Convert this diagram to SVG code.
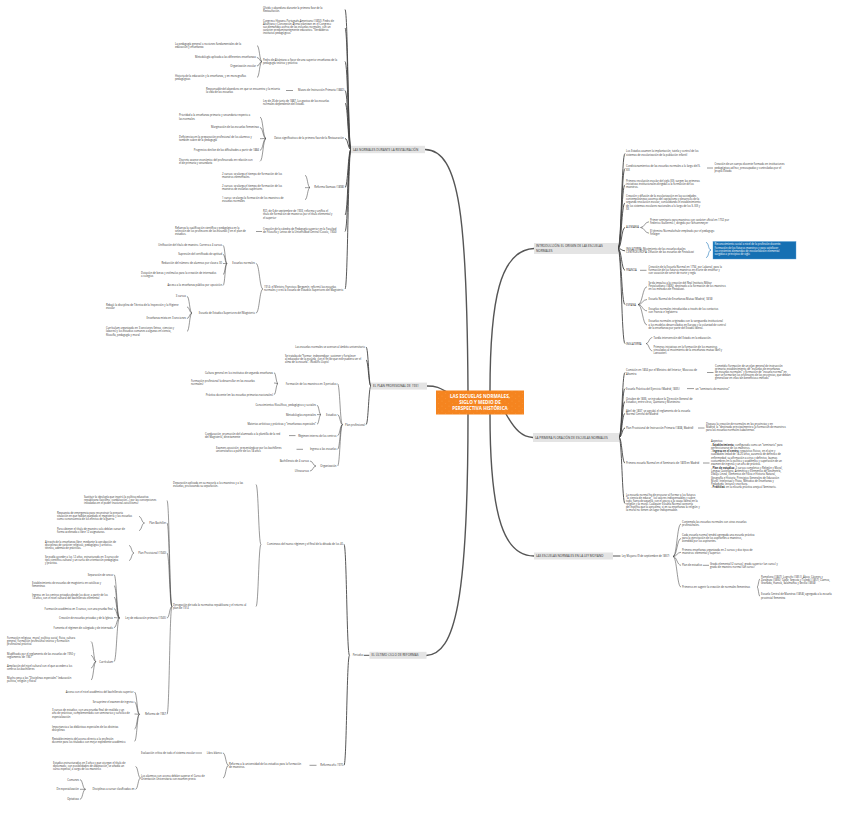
<svg xmlns="http://www.w3.org/2000/svg" width="848" height="818" viewBox="0 0 848 818">
<style>
.t{font-family:"Open Sans","Liberation Sans",sans-serif;font-size:2.65px;fill:#333}
.e{text-anchor:end}
.h{font-family:"Open Sans","Liberation Sans",sans-serif;font-size:3.1px;fill:#333}
.c{font-family:"Open Sans","Liberation Sans",sans-serif;font-weight:bold;font-size:4.6px;fill:#fff;text-anchor:middle}
.w{font-family:"Open Sans","Liberation Sans",sans-serif;font-size:2.65px;fill:#fff}
.box{fill:#e4e4e4}
.b1{fill:none;stroke:#444;stroke-width:0.9}
.b2{fill:none;stroke:#444;stroke-width:0.55}
.m{fill:none;stroke:#555;stroke-width:1.4;stroke-linecap:round}
</style>
<defs>
<pattern id="dots" width="7" height="5" patternUnits="userSpaceOnUse"><circle cx="1" cy="1" r="0.3" fill="#fbb979"/><circle cx="4.5" cy="3.5" r="0.3" fill="#fbb979"/></pattern>
</defs>
<rect width="848" height="818" fill="#fff"/>
<g id="connectors">
<path class="m" d="M425 149.5C460 150 467 220 468 391"/>
<path class="m" d="M534 248.5C500 250 490 300 490 391"/>
<path class="m" d="M427 386C437 386 440 388 446 391.5"/>
<path class="m" d="M506 414C515 430 522 437 533 437.5"/>
<path class="m" d="M468 414.5C468 600 455 655 426 655.5"/>
<path class="m" d="M490 414.5C490 520 505 556 534 556"/>
<!-- Restauracion -->
<path class="b1" d="M351 149.5C348 149.5 348 9.5 345 9.5M351 149.5C348 149.5 348 28 345 28M351 149.5C348 149.5 348 61.5 345 61.5M351 149.5C348 149.5 348 90.5 345 90.5M351 149.5C348 149.5 348 103 345 103M351 149.5C348 149.5 348 138.5 345 138.5M351 149.5C348 149.5 348 187.5 345 187.5M351 149.5C348 149.5 348 215 345 215M351 149.5C348 149.5 348 231.5 345 231.5M351 149.5C348 149.5 348 289 345 289"/>
<path class="b2" d="M262 61.5C259.5 61.5 259.5 45.5 257 45.5M262 61.5C259.5 61.5 259.5 57.5 257 57.5M262 61.5C259.5 61.5 259.5 66 257 66M262 61.5C259.5 61.5 259.5 77.5 257 77.5"/>
<path class="b2" d="M286 90.5H293"/>
<path class="b2" d="M266 138.5C263 138.5 263 117 260 117M266 138.5C263 138.5 263 127.5 260 127.5M266 138.5C263 138.5 263 138.7 260 138.7M266 138.5C263 138.5 263 150.3 260 150.3M266 138.5C263 138.5 263 161.3 260 161.3"/>
<path class="b2" d="M310 187.5C307.5 187.5 307.5 175.3 305 175.3M310 187.5C307.5 187.5 307.5 187.7 305 187.7M310 187.5C307.5 187.5 307.5 199.7 305 199.7"/>
<path class="b2" d="M256 231.5H262"/>
<path class="b2" d="M263 289C259.5 289 259.5 263.5 256 263.5M263 289C259.5 289 259.5 313 256 313"/>
<path class="b2" d="M227 263.5C225 263.5 225 245.3 223 245.3M227 263.5C225 263.5 225 254.3 223 254.3M227 263.5C225 263.5 225 263.5 223 263.5M227 263.5C225 263.5 225 274.6 223 274.6M227 263.5C225 263.5 225 285.5 223 285.5"/>
<path class="b2" d="M192 313C189.5 313 189.5 296.3 187 296.3M192 313C189.5 313 189.5 307 187 307M192 313C189.5 313 189.5 318.5 187 318.5M192 313C189.5 313 189.5 331.5 187 331.5"/>
<!-- Plan 1931 -->
<path class="b1" d="M371 386C368.5 386 368.5 347 366 347M371 386C368.5 386 368.5 360 366 360M371 386C368.5 386 368.5 424.6 366 424.6"/>
<path class="b2" d="M342.5 424.6C340 424.6 340 383.6 337.5 383.6M342.5 424.6C340 424.6 340 414.6 337.5 414.6M342.5 424.6C340 424.6 340 435.6 337.5 435.6M342.5 424.6C340 424.6 340 449.3 337.5 449.3M342.5 424.6C340 424.6 340 466 337.5 466"/>
<path class="b2" d="M278 383.6C276 383.6 276 372.6 274 372.6M278 383.6C276 383.6 276 383 274 383M278 383.6C276 383.6 276 394.6 274 394.6"/>
<path class="b2" d="M321 414.6C319 414.6 319 405.3 317 405.3M321 414.6C319 414.6 319 414.6 317 414.6M321 414.6C319 414.6 319 424.3 317 424.3"/>
<path class="b2" d="M289 435.6H295.5M296.5 449.3H303"/>
<path class="b2" d="M316 466C313 466 313 461 310 461M316 466C313 466 313 471 310 471"/>
<!-- Ultimo ciclo -->
<path class="b1" d="M364 655.3H369.5"/>
<path class="b1" d="M349.5 655.3C346.7 655.3 346.7 544.3 344 544.3M349.5 655.3C346.7 655.3 346.7 765.3 344 765.3"/>
<path class="b2" d="M261 544.3C258.5 544.3 258.5 484.5 256 484.5M261 544.3C258.5 544.3 258.5 606.5 256 606.5"/>
<path class="b2" d="M172 606.5C169.5 606.5 169.5 500.5 167 500.5M172 606.5C169.5 606.5 169.5 523 167 523M172 606.5C169.5 606.5 169.5 553 167 553M172 606.5C169.5 606.5 169.5 618 167 618M172 606.5C169.5 606.5 169.5 714.3 167 714.3"/>
<path class="b2" d="M144.5 523C141.7 523 141.7 516.5 139 516.5M144.5 523C141.7 523 141.7 530.5 139 530.5"/>
<path class="b2" d="M134 553C131.5 553 131.5 545.5 129 545.5M134 553C131.5 553 131.5 560.5 129 560.5"/>
<path class="b2" d="M119.5 618C116.7 618 116.7 574.6 114 574.6M119.5 618C116.7 618 116.7 585.5 114 585.5M119.5 618C116.7 618 116.7 597 114 597M119.5 618C116.7 618 116.7 608.6 114 608.6M119.5 618C116.7 618 116.7 617.6 114 617.6M119.5 618C116.7 618 116.7 627.6 114 627.6M119.5 618C116.7 618 116.7 661.6 114 661.6"/>
<path class="b2" d="M96 661.6C93.5 661.6 93.5 641.5 91 641.5M96 661.6C93.5 661.6 93.5 655.5 91 655.5M96 661.6C93.5 661.6 93.5 668 91 668M96 661.6C93.5 661.6 93.5 680 91 680"/>
<path class="b2" d="M139.5 714.3C137 714.3 137 692 134.5 692M139.5 714.3C137 714.3 137 702 134.5 702M139.5 714.3C137 714.3 137 714 134.5 714M139.5 714.3C137 714.3 137 729 134.5 729M139.5 714.3C137 714.3 137 741.3 134.5 741.3"/>
<path class="b2" d="M309.5 765.3H316.5"/>
<path class="b2" d="M228.5 765.3C225.7 765.3 225.7 753 223 753M228.5 765.3C225.7 765.3 225.7 778 223 778"/>
<path class="b2" d="M195.5 753H202"/>
<path class="b2" d="M140.5 778C138 778 138 766.5 135.5 766.5M140.5 778C138 778 138 789.3 135.5 789.3"/>
<path class="b2" d="M85.5 789.3C82.7 789.3 82.7 779.6 80 779.6M85.5 789.3C82.7 789.3 82.7 789.3 80 789.3M85.5 789.3C82.7 789.3 82.7 799.3 80 799.3"/>
<!-- Introduccion -->
<path class="b1" d="M618 248.5C621.5 248.5 621.5 153.5 625 153.5M618 248.5C621.5 248.5 621.5 168.5 625 168.5M618 248.5C621.5 248.5 621.5 184.8 625 184.8M618 248.5C621.5 248.5 621.5 203 625 203M618 248.5C621.5 248.5 621.5 227.5 625 227.5M618 248.5C621.5 248.5 621.5 250.8 625 250.8M618 248.5C621.5 248.5 621.5 270.3 625 270.3M618 248.5C621.5 248.5 621.5 304.6 625 304.6M618 248.5C621.5 248.5 621.5 343.6 625 343.6"/>
<path class="b2" d="M707 168H713"/>
<path class="b2" d="M640.5 227.5C644.7 227.5 644.7 221.8 649 221.8M640.5 227.5C644.7 227.5 644.7 233.2 649 233.2"/>
<path fill="none" stroke="#1a74b8" stroke-width="0.6" d="M706 242.5C709 242.5 708 250 711 250C708 250 709 257.5 706 257.5"/>
<path class="b2" d="M640 270.3H646.5"/>
<path class="b2" d="M638 304.6C642.5 304.6 642.5 286.8 647 286.8M638 304.6C642.5 304.6 642.5 299.5 647 299.5M638 304.6C642.5 304.6 642.5 310.8 647 310.8M638 304.6C642.5 304.6 642.5 325 647 325"/>
<path class="b2" d="M646 343.6C649 343.6 649 337.6 652.3 337.6M646 343.6C649 343.6 649 350.8 652.3 350.8"/>
<!-- Primera floracion -->
<path class="b1" d="M619 437.5C622 437.5 622 372.5 625 372.5M619 437.5C622 437.5 622 388.6 625 388.6M619 437.5C622 437.5 622 401.5 625 401.5M619 437.5C622 437.5 622 413.5 625 413.5M619 437.5C622 437.5 622 428 625 428M619 437.5C622 437.5 622 463 625 463M619 437.5C622 437.5 622 503.5 625 503.5"/>
<path class="b2" d="M707 372.5H713.5M687 388.6H694M698 428H704.5M703 463H709.5"/>
<!-- Ley Moyano -->
<path class="b1" d="M613 556H620.5"/>
<path class="b2" d="M673 556.5C677 556.5 677 524 681 524M673 556.5C677 556.5 677 538.5 681 538.5M673 556.5C677 556.5 677 552.3 681 552.3M673 556.5C677 556.5 677 565.3 681 565.3M673 556.5C677 556.5 677 587 681 587"/>
<path class="b2" d="M703 565.3H709"/>
<path class="b2" d="M757 587C758.5 587 758.5 579 760 579M757 587C758.5 587 758.5 596.3 760 596.3"/>
</g>

<g id="n-center">
<rect x="436" y="390.5" width="88" height="24" fill="#f5841f"/>
<rect x="436" y="390.5" width="88" height="24" fill="url(#dots)"/>
<text class="c" x="480" y="398.3">LAS ESCUELAS NORMALES,</text>
<text class="c" x="480" y="404">SIGLO Y MEDIO DE</text>
<text class="c" x="480" y="409.8">PERSPECTIVA HISTÓRICA</text>
</g>

<g id="n-restauracion"><rect class="box" x="351" y="145.8" width="74" height="7.4"/><text class="h" x="353" y="150.6">LAS NORMALES DURANTE LA RESTAURACIÓN</text></g>
<g id="n-r1"><text class="t" x="263"><tspan x="263" y="8.6">Olvido y abandono durante la primera fase de la</tspan><tspan x="263" y="11.7">Restauración.</tspan></text></g>
<g id="n-r2"><text class="t" x="263"><tspan x="263" y="21.7">Congreso Hispano-Portugués-Americano (1892). Pedro de</tspan><tspan x="263" y="24.8">Alcántara y Concepción Arenal plantean en el Congreso</tspan><tspan x="263" y="27.9">sus demandas acerca de las escuelas normales, con un</tspan><tspan x="263" y="31">carácter predominantemente educativo. “Verdaderos</tspan><tspan x="263" y="34.1">institutos pedagógicos”</tspan></text></g>
<g id="n-r3"><text class="t" x="263"><tspan x="263" y="60.6">Pedro de Alcántara: a favor de una superior enseñanza de la</tspan><tspan x="263" y="63.7">pedagogía teórica y práctica</tspan></text></g>
<g id="n-r3a"><text class="t"><tspan x="175" y="44.6">La pedagogía general o nociones fundamentales de la</tspan><tspan x="175" y="47.7">educación y enseñanza</tspan></text></g>
<g id="n-r3b"><text class="t e" x="256" y="58.4">Metodología aplicada a las diferentes enseñanzas</text></g>
<g id="n-r3c"><text class="t e" x="256" y="66.9">Organización escolar</text></g>
<g id="n-r3d"><text class="t"><tspan x="175" y="76.6">Historia de la educación y la enseñanza, y en monografías</tspan><tspan x="175" y="79.7">pedagógicas</tspan></text></g>
<g id="n-r4"><text class="t e" x="344" y="91.4">Museo de Instrucción Primaria (1882)</text></g>
<g id="n-r4a"><text class="t"><tspan x="206" y="89.5">Responsable del abandono en que se encuentra y la miseria</tspan><tspan x="206" y="92.6">la vida de las escuelas</tspan></text></g>
<g id="n-r5"><text class="t"><tspan x="263" y="101.9">Ley de 26 de junio de 1887. Los gastos de las escuelas</tspan><tspan x="263" y="105">normales dependerán del Estado.</tspan></text></g>
<g id="n-r6"><text class="t e" x="344" y="139.4">Datos significativos de la primera fase de la Restauración</text></g>
<g id="n-r6a"><text class="t"><tspan x="179" y="116.4">Prioridad a la enseñanza primaria y secundaria respecto a</tspan><tspan x="179" y="119.5">las normales</tspan></text></g>
<g id="n-r6b"><text class="t e" x="259" y="128.4">Marginación de las escuelas femeninas</text></g>
<g id="n-r6c"><text class="t"><tspan x="179" y="138">Deficiencias en la preparación profesional de los alumnos y</tspan><tspan x="179" y="141.1">también sobre de la pedagogía</tspan></text></g>
<g id="n-r6d"><text class="t e" x="259" y="151.2">Progresivo declive de las dificultades a partir de 1884</text></g>
<g id="n-r6e"><text class="t"><tspan x="179" y="160.6">Discreto avance económico del profesorado en relación con</tspan><tspan x="179" y="163.7">el de primaria y secundaria</tspan></text></g>
<g id="n-r7"><text class="t e" x="344" y="188.4">Reforma Gamazo (1898)</text></g>
<g id="n-r7a"><text class="t"><tspan x="222" y="174.6">2 cursos: se alarga el tiempo de formación de los</tspan><tspan x="222" y="177.7">maestros elementales.</tspan></text></g>
<g id="n-r7b"><text class="t"><tspan x="222" y="187">2 cursos: se alarga el tiempo de formación de los</tspan><tspan x="222" y="190.1">maestros de escuelas superiores</tspan></text></g>
<g id="n-r7c"><text class="t"><tspan x="222" y="199">1 curso: se alarga la formación de los maestros de</tspan><tspan x="222" y="202.1">escuelas normales</tspan></text></g>
<g id="n-r8"><text class="t"><tspan x="263" y="212.3">R.D. de 6 de septiembre de 1903, reforma y unifica el</tspan><tspan x="263" y="215.4">título de formación de maestros por el título elemental y</tspan><tspan x="263" y="218.5">el superior</tspan></text></g>
<g id="n-r9"><text class="t"><tspan x="263" y="230.3">Creación de la cátedra de Pedagogía superior en la Facultad</tspan><tspan x="263" y="233.4">de Filosofía y Letras de la Universidad Central (Cossío, 1904)</tspan></text></g>
<g id="n-r9a"><text class="t"><tspan x="175" y="228.6">Refuerza la cualificación científica y pedagógica en la</tspan><tspan x="175" y="231.7">selección de los profesores de las escuelas y en el plan de</tspan><tspan x="175" y="234.8">estudios.</tspan></text></g>
<g id="n-r10"><text class="t"><tspan x="264" y="287.8">1914: el Ministro Francisco Bergamín, reformó las escuelas</tspan><tspan x="264" y="290.9">normales y creó la Escuela de Estudios Superiores del Magisterio</tspan></text></g>
<g id="n-r10a"><text class="t e" x="255" y="264.4">Escuelas normales</text></g>
<g id="n-r10a1"><text class="t e" x="222" y="246.2">Unificación del título de maestro. Carrera a 4 cursos</text></g>
<g id="n-r10a2"><text class="t e" x="222" y="255.2">Supresión del certificado de aptitud</text></g>
<g id="n-r10a3"><text class="t e" x="222" y="264.4">Reducción del número de alumnos por clase a 30</text></g>
<g id="n-r10a4"><text class="t"><tspan x="141" y="273.9">Dotación de becas y estímulos para la creación de internados</tspan><tspan x="141" y="277">o colegios</tspan></text></g>
<g id="n-r10a5"><text class="t e" x="222" y="286.4">Acceso a la enseñanza pública por oposición</text></g>
<g id="n-r10b"><text class="t e" x="255" y="313.9">Escuela de Estudios Superiores del Magisterio</text></g>
<g id="n-r10b1"><text class="t e" x="186" y="297.2">3 cursos</text></g>
<g id="n-r10b2"><text class="t"><tspan x="106" y="306.3">Rebajó la disciplina de Técnica de la Inspección y la Higiene</tspan><tspan x="106" y="309.4">escolar</tspan></text></g>
<g id="n-r10b3"><text class="t e" x="186" y="319.4">Enseñanza mixta en 3 secciones</text></g>
<g id="n-r10b4"><text class="t"><tspan x="106" y="329.3">Currículum organizado en 3 secciones (letras, ciencias y</tspan><tspan x="106" y="332.4">labores) y los estudios comunes a algunas en ciencia,</tspan><tspan x="106" y="335.5">filosofía, pedagogía y moral</tspan></text></g>

<g id="n-plan1931"><rect class="box" x="371" y="382.6" width="56" height="7"/><text class="h" x="373" y="387.2">EL PLAN PROFESIONAL DE 1931</text></g>
<g id="n-p1"><text class="t e" x="365" y="347.9">Las escuelas normales se acercan al ámbito universitario</text></g>
<g id="n-p2"><text class="t"><tspan x="285" y="357">Se trataba de “formar, independizar, sostener y fortalecer</tspan><tspan x="285" y="360.1">al educador de la escuela, con el fin de que este pudiera ser el</tspan><tspan x="285" y="363.2">alma de la escuela”. (Rodolfo Llopis)</tspan></text></g>
<g id="n-p3"><text class="t e" x="365" y="425.5">Plan profesional</text></g>
<g id="n-p3a"><text class="t e" x="336.5" y="384.5">Formación de los maestros en 3 periodos</text></g>
<g id="n-p3a1"><text class="t e" x="273" y="373.5">Cultura general en los institutos de segunda enseñanza</text></g>
<g id="n-p3a2"><text class="t"><tspan x="191" y="382">Formación profesional (a desarrollar en las escuelas</tspan><tspan x="191" y="385.1">normales)</tspan></text></g>
<g id="n-p3a3"><text class="t e" x="273" y="395.5">Práctica docente (en las escuelas primarias nacionales)</text></g>
<g id="n-p3b"><text class="t e" x="336.5" y="415.5">Estudios</text></g>
<g id="n-p3b1"><text class="t e" x="316" y="406.2">Conocimientos filosóficos, pedagógicos y sociales</text></g>
<g id="n-p3b2"><text class="t e" x="316" y="415.5">Metodologías especiales</text></g>
<g id="n-p3b3"><text class="t e" x="316" y="425.2">Materias artísticas y prácticas y “enseñanzas especiales”</text></g>
<g id="n-p3c"><text class="t e" x="336.5" y="436.5">Régimen interno de los centros</text></g>
<g id="n-p3c1"><text class="t"><tspan x="205" y="435">Coeducación, promoción del alumnado a la plantilla de la red</tspan><tspan x="205" y="438.1">del Magisterio, directamente</tspan></text></g>
<g id="n-p3d"><text class="t e" x="336.5" y="450.2">Ingreso a las escuelas</text></g>
<g id="n-p3d1"><text class="t"><tspan x="216" y="448.6">Examen-oposición, presentándose por los bachilleres</tspan><tspan x="216" y="451.7">universitarios a partir de los 18 años</tspan></text></g>
<g id="n-p3e"><text class="t e" x="336.5" y="466.9">Organización</text></g>
<g id="n-p3e1"><text class="t e" x="309" y="461.9">Bachillerato de 4 cursos</text></g>
<g id="n-p3e2"><text class="t e" x="309" y="471.9">Ultracursos</text></g>

<g id="n-ultimo"><rect class="box" x="369.5" y="651.8" width="57" height="7"/><text class="h" x="371.5" y="656.4">EL ÚLTIMO CICLO DE REFORMAS</text></g>
<g id="n-u0"><text class="t e" x="363.5" y="656.2">Periodos</text></g>
<g id="n-u1"><text class="t e" x="343" y="545.2">Comienzos del nuevo régimen y el final de la década de los 40</text></g>
<g id="n-u1a"><text class="t"><tspan x="173" y="483.6">Depuración aplicada en su mayoría a los maestros y a las</tspan><tspan x="173" y="486.7">escuelas, provocando su separación.</tspan></text></g>
<g id="n-u1b"><text class="t"><tspan x="173" y="605.6">Derogación de toda la normativa republicana y el retorno al</tspan><tspan x="173" y="608.7">plan de 1914</tspan></text></g>
<g id="n-u1b1"><text class="t"><tspan x="84" y="497.9">Sustituir la ideología que inspiró la política educativa</tspan><tspan x="84" y="501">republicana (laicismo, coeducación...) por las concepciones</tspan><tspan x="84" y="504.1">instaladas en el poder (nacional-catolicismo)</tspan></text></g>
<g id="n-u1b2"><text class="t e" x="166" y="523.9">Plan Bachiller</text></g>
<g id="n-u1b2a"><text class="t"><tspan x="57" y="513.6">Respuesta de emergencia para reconstruir la precaria</tspan><tspan x="57" y="516.7">situación en que habían quedado el magisterio y las escuelas</tspan><tspan x="57" y="519.8">como consecuencia de los efectos de la guerra</tspan></text></g>
<g id="n-u1b2b"><text class="t"><tspan x="57" y="529.6">Para obtener el título de maestro solo debían cursar de</tspan><tspan x="57" y="532.7">forma acelerada o libre 12 asignaturas.</tspan></text></g>
<g id="n-u1b3"><text class="t e" x="166" y="553.9">Plan Provisional (1940)</text></g>
<g id="n-u1b3a"><text class="t"><tspan x="45" y="542.6">A través de la enseñanza libre, mediante la aprobación de</tspan><tspan x="45" y="545.7">disciplinas de carácter religioso, pedagógico y artístico-</tspan><tspan x="45" y="548.8">técnico, además de prácticas.</tspan></text></g>
<g id="n-u1b3b"><text class="t"><tspan x="45" y="557.6">Se podía acceder a los 12 años, estructurado en 3 cursos de</tspan><tspan x="45" y="560.7">tipo científico-cultural y un curso de orientación pedagógica</tspan><tspan x="45" y="563.8">y práctica.</tspan></text></g>
<g id="n-u1b4"><text class="t e" x="166" y="618.9">Ley de educación primaria (1945)</text></g>
<g id="n-u1b4a"><text class="t e" x="113" y="575.5">Separación de sexos</text></g>
<g id="n-u1b4b"><text class="t"><tspan x="32" y="584.3">Establecimiento de escuelas de magisterio en católicas y</tspan><tspan x="32" y="587.4">femeninas</tspan></text></g>
<g id="n-u1b4c"><text class="t"><tspan x="32" y="595.8">Ingreso en los centros privados desde los doce, a partir de los</tspan><tspan x="32" y="598.9">14 años, con el nivel cultural del bachillerato elemental</tspan></text></g>
<g id="n-u1b4d"><text class="t e" x="113" y="609.5">Formación académica en 3 cursos, con una prueba final</text></g>
<g id="n-u1b4e"><text class="t e" x="113" y="618.5">Creación de escuelas privadas y de la Iglesia</text></g>
<g id="n-u1b4f"><text class="t e" x="113" y="628.5">Fomenta el régimen de colegiado y de internado</text></g>
<g id="n-u1b4g"><text class="t e" x="113" y="662.5">Currículum</text></g>
<g id="n-u1b4g1"><text class="t"><tspan x="7" y="638.8">Formación religiosa, moral, política social, física, cultura</tspan><tspan x="7" y="641.9">general, formación profesional teórica y formación</tspan><tspan x="7" y="645">profesional práctica</tspan></text></g>
<g id="n-u1b4g2"><text class="t"><tspan x="7" y="654.6">Modificado por el reglamento de las escuelas de 1950 y</tspan><tspan x="7" y="657.7">reglamento de 1967</tspan></text></g>
<g id="n-u1b4g3"><text class="t"><tspan x="7" y="667">Ampliación del nivel cultural con el que acceden a los</tspan><tspan x="7" y="670.1">centros los bachilleres</tspan></text></g>
<g id="n-u1b4g4"><text class="t"><tspan x="7" y="679">Mucho peso a las “Disciplinas especiales” (educación</tspan><tspan x="7" y="682.1">política, religión y física)</tspan></text></g>
<g id="n-u1b5"><text class="t e" x="166" y="715.2">Reforma de 1967</text></g>
<g id="n-u1b5a"><text class="t e" x="133.5" y="692.9">Acceso con el nivel académico del bachillerato superior</text></g>
<g id="n-u1b5b"><text class="t e" x="133.5" y="702.9">Se suprime el examen de ingreso</text></g>
<g id="n-u1b5c"><text class="t"><tspan x="52" y="711.3">3 cursos de estudios, con una prueba final de reválida y un</tspan><tspan x="52" y="714.4">año de prácticas, complementado con seminarios y cursillos de</tspan><tspan x="52" y="717.5">especialización</tspan></text></g>
<g id="n-u1b5d"><text class="t"><tspan x="52" y="728">Importancia a las didácticas especiales de las distintas</tspan><tspan x="52" y="731.1">disciplinas</tspan></text></g>
<g id="n-u1b5e"><text class="t"><tspan x="52" y="740.3">Restablecimiento del acceso directo a la profesión</tspan><tspan x="52" y="743.4">docente para los titulados con mejor expediente académico</tspan></text></g>
<g id="n-u2"><text class="t e" x="343" y="766.2">Reforma año 1970</text></g>
<g id="n-u2a"><text class="t"><tspan x="229" y="764.6">Reforma a la universidad de los estudios para la formación</tspan><tspan x="229" y="767.7">de maestros.</tspan></text></g>
<g id="n-u2a1"><text class="t e" x="222" y="753.9">Libro blanco</text></g>
<g id="n-u2a1a"><text class="t e" x="195" y="753.9">Evaluación crítica de todo el sistema escolar</text></g>
<g id="n-u2a2"><text class="t"><tspan x="141" y="777">Los alumnos con acceso debían superar el Curso de</tspan><tspan x="141" y="780.1">Orientación Universitaria con examen previo</tspan></text></g>
<g id="n-u2a2a"><text class="t"><tspan x="53" y="763.6">Estudios estructurados en 3 años y que otorgan el título de</tspan><tspan x="53" y="766.7">diplomado, con posibilidades de adaptación, se añadía un</tspan><tspan x="53" y="769.8">curso especial, a cargo de los maestros</tspan></text></g>
<g id="n-u2a2b"><text class="t e" x="134.5" y="790.2">Disciplinas a cursar clasificadas en</text></g>
<g id="n-u2a2b1"><text class="t e" x="79" y="780.5">Comunes</text></g>
<g id="n-u2a2b2"><text class="t e" x="79" y="790.2">De especialización</text></g>
<g id="n-u2a2b3"><text class="t e" x="79" y="800.2">Optativas</text></g>

<g id="n-intro"><rect class="box" x="534" y="243" width="84" height="11"/><text class="h"><tspan x="536" y="247.4">INTRODUCCIÓN: EL ORIGEN DE LAS ESCUELAS</tspan><tspan x="536" y="251.6">NORMALES</tspan></text></g>
<g id="n-i1"><text class="t"><tspan x="626" y="152.4">Los Estados asumen la implantación, tutela y control de los</tspan><tspan x="626" y="155.5">sistemas de escolarización de la población infantil</tspan></text></g>
<g id="n-i2"><text class="t"><tspan x="626" y="167.4">Condicionamientos de las escuelas normales a lo largo del S.</tspan><tspan x="626" y="170.5">XIX</tspan></text></g>
<g id="n-i2a"><text class="t"><tspan x="714.5" y="165.4">Creación de un cuerpo docente formado en instituciones</tspan><tspan x="714.5" y="168.5">pedagógicas ad hoc, preocupadas y controladas por el</tspan><tspan x="714.5" y="171.6">propio Estado</tspan></text></g>
<g id="n-i3"><text class="t"><tspan x="626" y="181.9">Primera revolución escolar del siglo XIX: surgen las primeras</tspan><tspan x="626" y="185">iniciativas institucionales dirigidas a la formación de los</tspan><tspan x="626" y="188.1">maestros.</tspan></text></g>
<g id="n-i4"><text class="t"><tspan x="626" y="197.2">Creación y difusión de la escolarización en las sociedades</tspan><tspan x="626" y="200.3">contemporáneas: ascenso del capitalismo y desarrollo de la</tspan><tspan x="626" y="203.4">segunda revolución escolar, consolidando el establecimiento</tspan><tspan x="626" y="206.5">de los sistemas escolares nacionales a lo largo de los S. XIX y</tspan><tspan x="626" y="209.6">XX</tspan></text></g>
<g id="n-i5"><text class="t" x="626" y="228.4">ALEMANIA</text></g>
<g id="n-i5a"><text class="t"><tspan x="650" y="220.7">Primer seminario para maestros con carácter oficial en 1732 por</tspan><tspan x="650" y="223.8">Federico Guillermo I, dirigido por Schoenmeyer</tspan></text></g>
<g id="n-i5b"><text class="t"><tspan x="650" y="232.1">El término Normalschule empleado por el pedagogo</tspan><tspan x="650" y="235.2">Felbiger</tspan></text></g>
<g id="n-i6"><text class="t"><tspan x="626" y="249.7">INGLATERRA: Movimiento de las escuelas duales</tspan><tspan x="626" y="252.8">CENTROEUROPA: Difusión de las escuelas de Pestalozzi</tspan></text></g>
<g id="n-i6a"><rect x="713" y="241.5" width="83" height="17.5" fill="#1670b3" stroke="#5aa0d8" stroke-width="0.4"/><text class="w"><tspan x="714.5" y="245.2">Reconocimiento social a nivel de la profesión docente.</tspan><tspan x="714.5" y="248.5">Formación de los futuros maestros y para satisfacer</tspan><tspan x="714.5" y="251.8">las crecientes demandas de escolarización elemental</tspan><tspan x="714.5" y="255.1">surgidas a principios de siglo</tspan></text></g>
<g id="n-i7"><text class="t" x="626" y="271.2">FRANCIA</text></g>
<g id="n-i7a"><text class="t"><tspan x="648.5" y="268">Creación de la Escuela Normal en 1794, por Lakanal, para la</tspan><tspan x="648.5" y="271.1">formación de los futuros maestros en el arte de enseñar y</tspan><tspan x="648.5" y="274.2">con vocación de servir de norte y regla</tspan></text></g>
<g id="n-i8"><text class="t" x="626" y="305.5">ESPAÑA</text></g>
<g id="n-i8a"><text class="t"><tspan x="648.5" y="283.7">Se da impulso a la creación del Real Instituto Militar</tspan><tspan x="648.5" y="286.8">Pestalozziano (1806), destinado a la formación de los maestros</tspan><tspan x="648.5" y="289.9">en los métodos de Pestalozzi.</tspan></text></g>
<g id="n-i8b"><text class="t" x="648.5" y="300.4">Escuela Normal de Enseñanza Mutua (Madrid, 1818)</text></g>
<g id="n-i8c"><text class="t"><tspan x="648.5" y="309.7">Escuelas normales introducidas a través de los contactos</tspan><tspan x="648.5" y="312.8">con Francia e Inglaterra</tspan></text></g>
<g id="n-i8d"><text class="t"><tspan x="648.5" y="322.4">Escuelas normales originadas con la vanguardia institucional</tspan><tspan x="648.5" y="325.5">a los modelos desarrollados en Europa y la voluntad de control</tspan><tspan x="648.5" y="328.6">de la enseñanza por parte del Estado liberal.</tspan></text></g>
<g id="n-i9"><text class="t" x="626" y="344.5">INGLATERRA</text></g>
<g id="n-i9a"><text class="t" x="653.5" y="338.5">Tardía intervención del Estado en la educación.</text></g>
<g id="n-i9b"><text class="t"><tspan x="653.5" y="348">Primeras iniciativas en la formación de los maestros</tspan><tspan x="653.5" y="351.1">vinculadas al movimiento de la enseñanza mutua (Bell y</tspan><tspan x="653.5" y="354.2">Lancaster).</tspan></text></g>

<g id="n-floracion"><rect class="box" x="533" y="433" width="86" height="9"/><text class="h" x="535" y="438.6">LA PRIMERA FLORACIÓN DE ESCUELAS NORMALES</text></g>
<g id="n-f1"><text class="t"><tspan x="626" y="371.4">Comisión en 1834 por el Ministro del Interior, Moscoso de</tspan><tspan x="626" y="374.5">Altamira</tspan></text></g>
<g id="n-f1a"><text class="t"><tspan x="715" y="366.6">Cometido: formación de un plan general de instrucción</tspan><tspan x="715" y="369.7">primaria: establecimiento de “escuelas de enseñanza</tspan><tspan x="715" y="372.8">de escuelas normales” y formación de “escuela normal” en</tspan><tspan x="715" y="375.9">que se formarían los profesores de las provincias, que debían</tspan><tspan x="715" y="379">generalizar en ellas tan beneficioso método”</tspan></text></g>
<g id="n-f2"><text class="t" x="626" y="389.5">Escuela Práctica del Ejercicio (Madrid, 1835)</text></g>
<g id="n-f2a"><text class="t" x="695.5" y="389.5">un “seminario de maestros”</text></g>
<g id="n-f3"><text class="t"><tspan x="626" y="400.3">Octubre de 1836, se introduce la Dirección General de</tspan><tspan x="626" y="403.4">Estudios, entre otros, Quintana y Montesino</tspan></text></g>
<g id="n-f4"><text class="t"><tspan x="626" y="412.3">Abril de 1837, se aprobó el reglamento de la escuela</tspan><tspan x="626" y="415.4">Normal Central de Madrid</tspan></text></g>
<g id="n-f5"><text class="t" x="626" y="428.9">Plan Provisional de Instrucción Primaria (1838, Madrid)</text></g>
<g id="n-f5a"><text class="t"><tspan x="706" y="425.2">Dispuso la creación de normales en las provincias y en</tspan><tspan x="706" y="428.3">Madrid, la “destinada principalmente a la formación de maestros</tspan><tspan x="706" y="431.4">para las escuelas normales subalternas”</tspan></text></g>
<g id="n-f6"><text class="t" x="626" y="463.9">Primera escuela Normal en el Seminario de 1839 en Madrid</text></g>
<g id="n-f6a"><text class="t">
<tspan x="711" y="442.2">Aspectos:</tspan>
<tspan x="711" y="445.5">- <tspan font-weight="bold">Establecimiento</tspan>: configurado como un “seminario” para</tspan>
<tspan x="711" y="448.8">perfeccionarse de los maestros.</tspan>
<tspan x="711" y="452.1">- <tspan font-weight="bold">Ingreso en el centro</tspan>: requisitos físicos, en el aire y</tspan>
<tspan x="711" y="455.4">cualidades (edad de 18-20 años, ausencia de defectos de</tspan>
<tspan x="711" y="458.7">enfermedad, su afirmación a otros y defectos, buenas</tspan>
<tspan x="711" y="462">costumbres en lo político y académico y superación de un</tspan>
<tspan x="711" y="465.3">examen de ingreso y un año de práctica.</tspan>
<tspan x="711" y="468.6">- <tspan font-weight="bold">Plan de estudios</tspan>: 2 cursos completos y Religión y Moral,</tspan>
<tspan x="711" y="471.9">Lengua Castellana, Aritmética y Elementos de Geometría,</tspan>
<tspan x="711" y="475.2">Dibujo Lineal, Elementos de Física e Historia Natural,</tspan>
<tspan x="711" y="478.5">Geografía e Historia, Principios Generales de Educación</tspan>
<tspan x="711" y="481.8">Moral, Intelectual y Física, Métodos de Enseñanza y</tspan>
<tspan x="711" y="485.1">Pedagogía, lectura y escritura.</tspan>
<tspan x="711" y="488.4">- <tspan font-weight="bold">Prácticas</tspan>: en la escuela práctica aneja al Seminario.</tspan>
</text></g>
<g id="n-f7"><text class="t"><tspan x="626" y="496">La escuela normal ha de procurar al formar a los futuros</tspan><tspan x="626" y="499">“la ciencia de educar”, los valores indispensables y sobre</tspan><tspan x="626" y="502">todo, fuera de aquella, con el apoyo a la causa liberal en la</tspan><tspan x="626" y="505">religión y la moral. Cualquier Escuela Normal carecería</tspan><tspan x="626" y="508">del espíritu que la aproxima, si en su enseñanza la religión y</tspan><tspan x="626" y="511">la moral no tienen un lugar indispensable.</tspan></text></g>

<g id="n-moyano"><rect class="box" x="534" y="552.5" width="79" height="7"/><text class="h" x="536" y="557.1">LAS ESCUELAS NORMALES EN LA LEY MOYANO</text></g>
<g id="n-m0"><text class="t" x="621.7" y="557.4">Ley Moyano (9 de septiembre de 1857)</text></g>
<g id="n-m1"><text class="t"><tspan x="682" y="523">Contempla las escuelas normales con otras escuelas</tspan><tspan x="682" y="526.1">profesionales.</tspan></text></g>
<g id="n-m2"><text class="t"><tspan x="682" y="535.5">Cada escuela normal tendrá agregada una escuela práctica</tspan><tspan x="682" y="538.6">para la ejercitación de los aspirantes a maestros,</tspan><tspan x="682" y="541.7">atendida por los aspirantes.</tspan></text></g>
<g id="n-m3"><text class="t"><tspan x="682" y="551.3">Primera enseñanza organizada en 2 cursos y dos tipos de</tspan><tspan x="682" y="554.4">maestros: elemental y superior.</tspan></text></g>
<g id="n-m4"><text class="t" x="682" y="566.2">Plan de estudios</text></g>
<g id="n-m4a"><text class="t"><tspan x="710" y="565">Grado elemental (2 cursos), grado superior (un curso) y</tspan><tspan x="710" y="568.1">grado de maestro normal (un curso)</tspan></text></g>
<g id="n-m5"><text class="t" x="682" y="587.9">Primeros en sugerir la creación de normales femeninas</text></g>
<g id="n-m5a"><text class="t"><tspan x="761" y="577.8">Pamplona (1847), Logroño (1851), Álava, Cáceres y</tspan><tspan x="761" y="580.9">Zaragoza (1856), Cádiz, Segovia y Toledo (1857), Cuenca,</tspan><tspan x="761" y="584">Granada, Huesca, Salamanca y Sevilla (1858)</tspan></text></g>
<g id="n-m5b"><text class="t"><tspan x="761" y="595.4">Escuela Central de Maestras (1858), agregada a la escuela</tspan><tspan x="761" y="598.5">provincial femenina</tspan></text></g>
</svg>
